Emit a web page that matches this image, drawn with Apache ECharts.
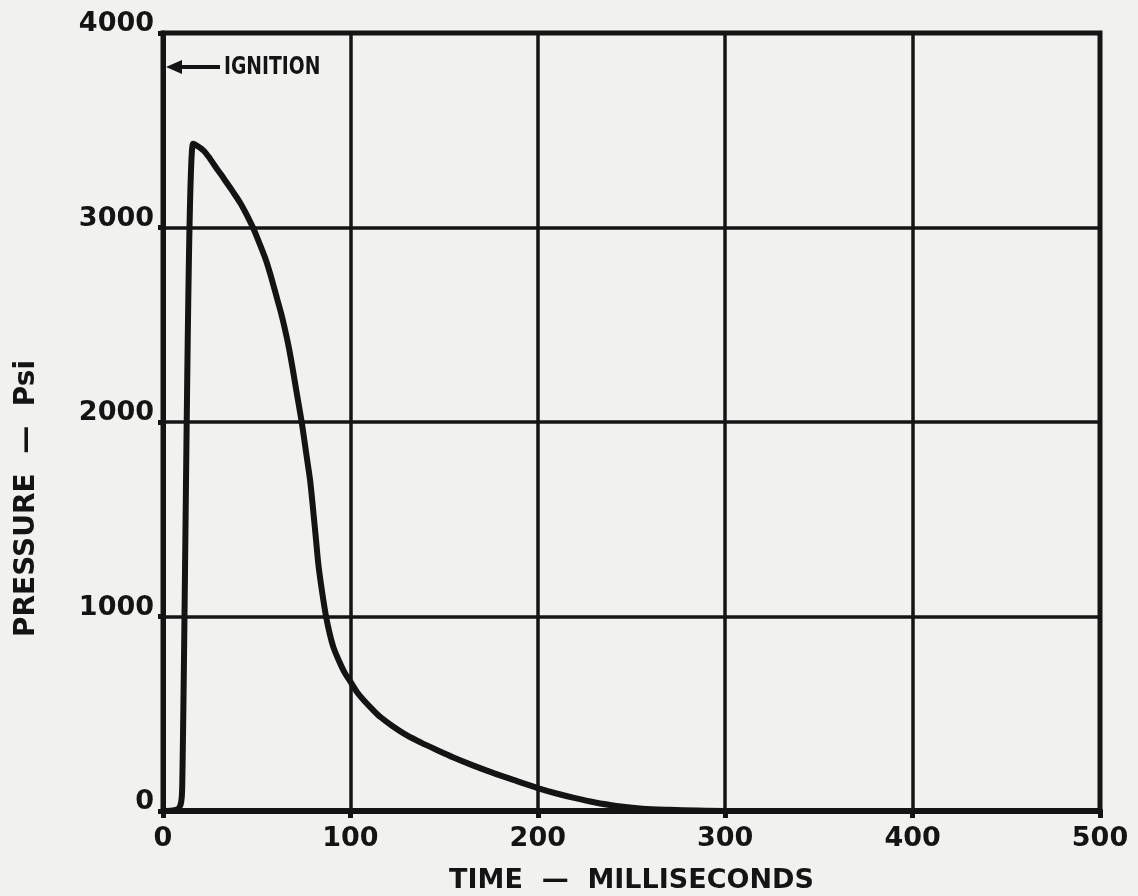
<!DOCTYPE html>
<html>
<head>
<meta charset="utf-8">
<script src="https://cdn.jsdelivr.net/npm/echarts@6/dist/echarts.min.js"></script>
<style>
  html, body { margin: 0; padding: 0; background: #f1f1ef; }
  #chart { width: 1138px; height: 896px; }
</style>
</head>
<body>
<div id="chart"></div>
<script>
// time (ms) and chamber pressure (psi)
const timeMs = [0, 5, 8, 9.3, 10, 10.3, 16, 19, 22, 25, 28, 31, 34, 37, 41, 44, 48, 51, 55, 58, 61, 63,
  65, 67, 69, 71, 74, 77, 78.5, 80, 81.5, 83, 85, 87, 89, 91, 94, 97, 100, 104, 108, 112, 116, 122,
  130, 138, 146, 155, 165, 175, 187, 200, 210, 220, 230, 242, 256, 270, 285, 300, 330];
const pressurePsi = [0, 3, 10, 30, 70, 150, 3430, 3415, 3392, 3355, 3312, 3272, 3230, 3188, 3130, 3078,
  3000, 2930, 2830, 2735, 2630, 2560, 2480, 2390, 2285, 2170, 2000, 1800, 1700, 1560, 1410, 1260,
  1120, 1000, 910, 840, 770, 710, 665, 605, 560, 520, 483, 440, 390, 350, 314, 275, 236, 200, 160,
  118, 90, 66, 45, 26, 12, 6, 2, 0, 0];

const xTicks = [0, 100, 200, 300, 400, 500];
const yTicks = [0, 1000, 2000, 3000, 4000];

const ink = '#141414';
const labelFont = { color: ink, fontFamily: 'DejaVu Sans', fontWeight: 'bold', fontSize: 27 };

const chart = echarts.init(document.getElementById('chart'));

const options = {
  backgroundColor: '#f1f1ef',
  animation: false,
  grid: {
    left: 163, right: 38, top: 33, bottom: 85,
    outerBoundsMode: 'none',
    containLabel: false,
    show: true, borderColor: ink, borderWidth: 5
  },
  xAxis: {
    type: 'value',
    min: xTicks[0],
    max: xTicks[xTicks.length - 1],
    interval: 100,
    name: 'TIME  —  MILLISECONDS',
    nameLocation: 'middle',
    nameGap: 56,
    nameTextStyle: labelFont,
    axisLine: { lineStyle: { color: ink, width: 6 } },
    axisTick: { show: true, length: 7, lineStyle: { color: ink, width: 5 } },
    axisLabel: Object.assign({ margin: 14, formatter: v => String(v) }, labelFont),
    splitLine: { show: true, lineStyle: { color: ink, width: 3.5 } }
  },
  yAxis: {
    type: 'value',
    min: yTicks[0],
    max: yTicks[yTicks.length - 1],
    interval: 1000,
    axisLine: { show: true, lineStyle: { color: ink, width: 5 } },
    axisTick: { show: true, length: 5, lineStyle: { color: ink, width: 5 } },
    axisLabel: Object.assign({
      margin: 9, verticalAlign: 'bottom', lineHeight: 18, formatter: v => String(v)
    }, labelFont),
    splitLine: { show: true, lineStyle: { color: ink, width: 3.5 } }
  },
  graphic: [
    {
      type: 'text',
      left: 13,
      top: 360,
      rotation: Math.PI / 2,
      style: { text: 'PRESSURE  —  Psi', fill: ink, font: 'bold 28px "DejaVu Sans"' }
    },
    {
      type: 'text',
      x: 224,
      y: 55,
      scaleX: 0.75,
      style: { text: 'IGNITION', fill: ink, font: 'bold 25px "DejaVu Sans"' }
    },
    {
      type: 'line',
      shape: { x1: 220, y1: 67, x2: 178, y2: 67 },
      style: { stroke: ink, lineWidth: 4 }
    },
    {
      type: 'polygon',
      shape: { points: [[166, 67], [182, 60], [182, 74]] },
      style: { fill: ink }
    }
  ],
  series: [
    {
      type: 'line',
      data: timeMs.map((t, i) => [t, pressurePsi[i]]),
      showSymbol: false,
      smooth: 0.3,
      lineStyle: { color: ink, width: 6, join: 'round' },
      z: 5
    }
  ]
};

chart.setOption(options);
</script>
</body>
</html>
